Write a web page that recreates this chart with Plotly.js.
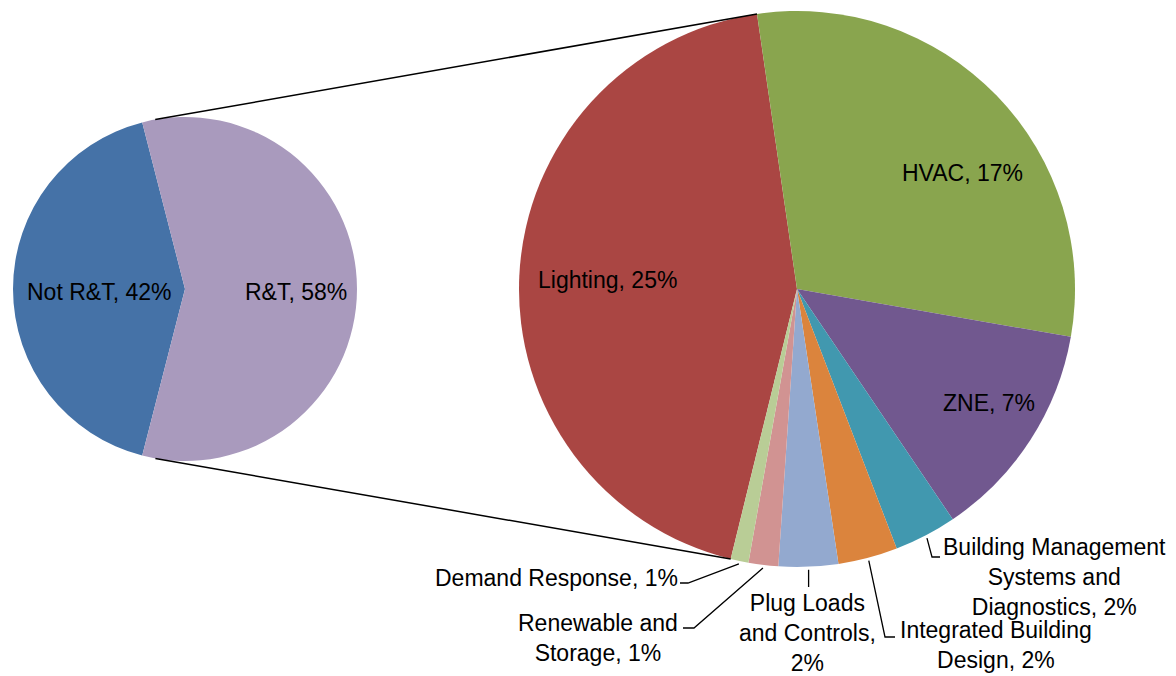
<!DOCTYPE html>
<html><head><meta charset="utf-8">
<script src="https://cdn.plot.ly/plotly-3.0.1.min.js"></script>
<style>html,body{margin:0;padding:0;background:#fff}#chart{width:1176px;height:676px}</style>
</head><body><div id="chart"></div>
<script>
// ---- data ----
const mainLabels = ['Not R&T', 'R&T'];
const mainValues = [42, 58];
const mainColors = ['#4572A7', '#A99ABD'];

const detailLabels = ['Lighting', 'HVAC', 'ZNE', 'Building Management Systems and Diagnostics',
  'Integrated Building Design', 'Plug Loads and Controls', 'Renewable and Storage', 'Demand Response'];
const detailValues = [25.4, 17.4, 7.4, 2.1, 2.0, 2.0, 1.0, 0.6];
const detailColors = ['#AA4643', '#89A54E', '#71588F', '#4198AF', '#DB843D', '#93A9CF', '#D19392', '#B9CD96'];

// ---- layout geometry (pixels) ----
const W = 1176, H = 676;
const L = {cx: 185, cy: 289, r: 172};
const R = {cx: 797, cy: 289, r: 278};
const detailRotation = 193.8;
const FONT = {family: '"Liberation Sans", Arial, sans-serif', size: 23, color: '#000'};

function dom(c) {
  return {x: [(c.cx - c.r) / W, (c.cx + c.r) / W], y: [1 - (c.cy + c.r) / H, 1 - (c.cy - c.r) / H]};
}
function px(x, y) { return [x / W, 1 - y / H]; }
function pointAt(c, r, deg) {
  const a = deg * Math.PI / 180;
  return [c.cx + r * Math.sin(a), c.cy - r * Math.cos(a)];
}
function wrap(text, maxChars) {
  if (!maxChars) return text;
  const words = text.split(' ');
  const lines = [];
  let cur = '';
  words.forEach(w => {
    if (cur && (cur + ' ' + w).length > maxChars) { lines.push(cur); cur = w; }
    else cur = cur ? cur + ' ' + w : w;
  });
  if (cur) lines.push(cur);
  return lines.join('<br>');
}

// main pie rotation: R&T slice centred at 3 o'clock
const mainTotal = mainValues.reduce((a, b) => a + b, 0);
const a0 = mainValues[0] / mainTotal * 360, a1 = mainValues[1] / mainTotal * 360;
const mainRotation = 90 - a0 - a1 / 2;

// detail slice angles
const detailTotal = detailValues.reduce((a, b) => a + b, 0);
const starts = [], ends = [];
let acc = detailRotation;
detailValues.forEach(v => { starts.push(acc); acc += v / detailTotal * 360; ends.push(acc); });

const traces = [
  {type: 'pie', labels: mainLabels, values: mainValues, sort: false, direction: 'clockwise',
   rotation: mainRotation, marker: {colors: mainColors, line: {width: 0}}, textinfo: 'none',
   hoverinfo: 'label+value', domain: dom(L), showlegend: false},
  {type: 'pie', labels: detailLabels, values: detailValues, sort: false, direction: 'clockwise',
   rotation: detailRotation, marker: {colors: detailColors, line: {width: 0}}, textinfo: 'none',
   hoverinfo: 'label+value', domain: dom(R), showlegend: false}
];

const shapes = [];
// connector lines, tangent to the main pie
function tangent(P, upper) {
  const dx = P[0] - L.cx, dy = P[1] - L.cy;
  const d = Math.hypot(dx, dy);
  const base = Math.atan2(dy, dx), alpha = Math.acos(L.r / d);
  const c1 = [L.cx + L.r * Math.cos(base - alpha), L.cy + L.r * Math.sin(base - alpha)];
  const c2 = [L.cx + L.r * Math.cos(base + alpha), L.cy + L.r * Math.sin(base + alpha)];
  if (upper) return c1[1] < c2[1] ? c1 : c2;
  return c1[1] > c2[1] ? c1 : c2;
}
const pTop = pointAt(R, R.r, ends[0]);
const pBot = pointAt(R, R.r, starts[0]);
[[pTop, true], [pBot, false]].forEach(([P, up]) => {
  const T = tangent(P, up);
  const a = px(T[0], T[1]), b = px(P[0], P[1]);
  shapes.push({type: 'line', xref: 'paper', yref: 'paper', x0: a[0], y0: a[1], x1: b[0], y1: b[1],
    line: {color: '#000', width: 1.5}});
});

// label placement (pixels)
const labelPos = [
  {x: 607, y: 280, xa: 'center'},
  {x: 962, y: 173, xa: 'center'},
  {x: 989, y: 403, xa: 'center'},
  {x: 941, y: 577, xa: 'left', wrap: 19, leader: [[932, 557], [940, 557]]},
  {x: 898, y: 645, xa: 'left', wrap: 19, leader: [[885, 637], [895, 637]]},
  {x: 807, y: 633, xa: 'center', wrap: 13, leader: [[null, 587]]},
  {x: 680, y: 638, xa: 'right', wrap: 13, leader: [[694, 628], [683, 628]]},
  {x: 680, y: 578, xa: 'right', leader: [[688, 583], [680, 583]]}
];
const mainLabelPos = [{x: 98.5, y: 292}, {x: 296, y: 292}];

const annotations = [];
mainLabels.forEach((lab, i) => {
  const p = px(mainLabelPos[i].x, mainLabelPos[i].y);
  annotations.push({xref: 'paper', yref: 'paper', x: p[0], y: p[1], xanchor: 'center', yanchor: 'middle',
    showarrow: false, text: lab + ', ' + Math.round(mainValues[i] / mainTotal * 100) + '%', font: FONT});
});
detailLabels.forEach((lab, i) => {
  const lp = labelPos[i];
  const p = px(lp.x, lp.y);
  const txt = wrap(lab + ', ' + Math.round(detailValues[i]) + '%', lp.wrap);
  annotations.push({xref: 'paper', yref: 'paper', x: p[0], y: p[1], xanchor: lp.xa, yanchor: 'middle',
    align: 'center', showarrow: false, text: txt, font: FONT});
  if (lp.leader) {
    const mid = (starts[i] + ends[i]) / 2;
    const s = pointAt(R, R.r + 3, mid);
    let path = 'M' + px(s[0], s[1]).join(',');
    lp.leader.forEach(q => {
      const x = q[0] === null ? s[0] : q[0];
      path += ' L' + px(x, q[1]).join(',');
    });
    shapes.push({type: 'path', xref: 'paper', yref: 'paper', path: path, line: {color: '#000', width: 1.3}});
  }
});

const layout = {
  width: W, height: H, margin: {l: 0, r: 0, t: 0, b: 0},
  paper_bgcolor: '#fff', plot_bgcolor: '#fff', font: FONT,
  showlegend: false, shapes: shapes, annotations: annotations
};
Plotly.newPlot('chart', traces, layout, {displayModeBar: false, staticPlot: true});
</script>
</body></html>
